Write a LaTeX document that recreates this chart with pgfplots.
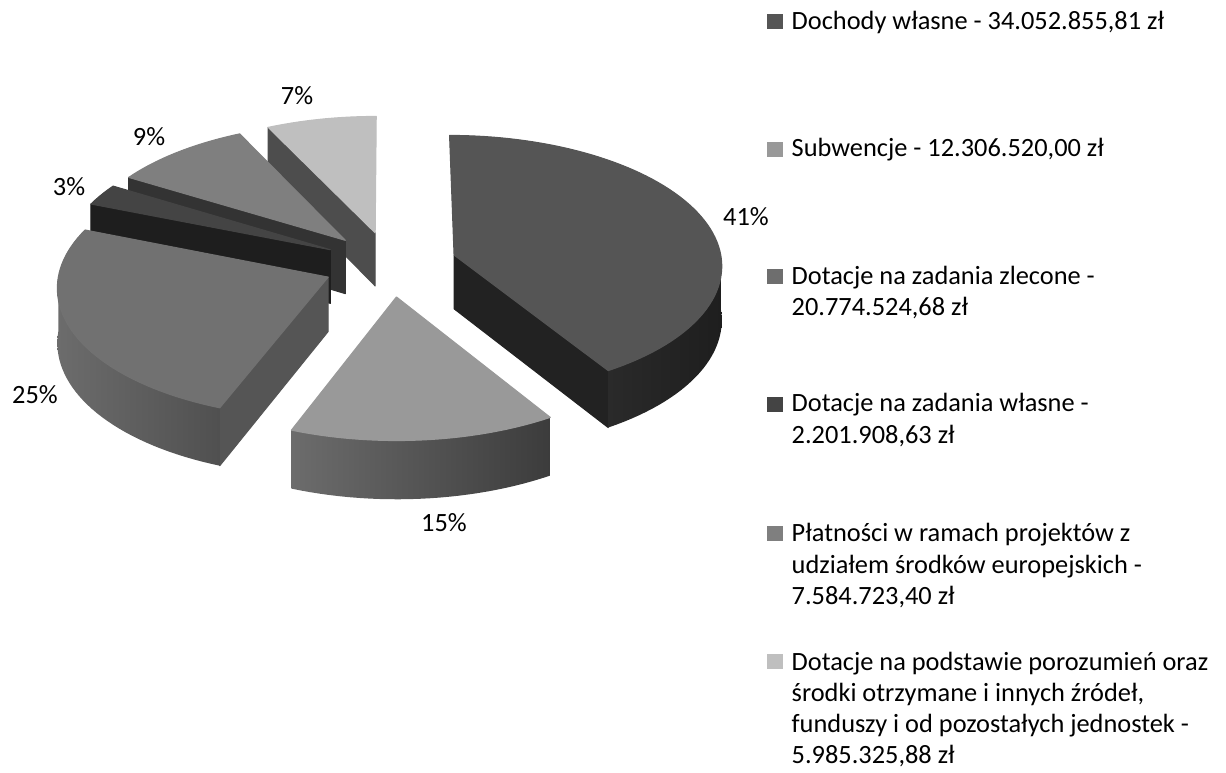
\documentclass[border=0pt]{standalone}
\usepackage{pgfplots}
\pgfplotsset{compat=1.18}
\usepackage{pgfplotstable}
\usepackage{fontspec}
\setmainfont{Carlito}

% values in millions of zl
\pgfplotstableread{
value
34.05285581
12.30652000
20.77452468
2.20190863
7.58472340
5.98532588
}\piedata

\definecolor{top0}{HTML}{555555}\definecolor{wall0}{HTML}{222222}\definecolor{sideL0}{HTML}{2A2A2A}\definecolor{sideR0}{HTML}{1E1E1E}
\definecolor{top1}{HTML}{999999}\definecolor{wall1}{HTML}{5A5A5A}\definecolor{sideL1}{HTML}{6C6C6C}\definecolor{sideR1}{HTML}{3C3C3C}
\definecolor{top2}{HTML}{717171}\definecolor{wall2}{HTML}{555555}\definecolor{sideL2}{HTML}{6C6C6C}\definecolor{sideR2}{HTML}{505050}
\definecolor{top3}{HTML}{444444}\definecolor{wall3}{HTML}{1E1E1E}\definecolor{sideL3}{HTML}{2A2A2A}\definecolor{sideR3}{HTML}{1E1E1E}
\definecolor{top4}{HTML}{7F7F7F}\definecolor{wall4}{HTML}{333333}\definecolor{sideL4}{HTML}{555555}\definecolor{sideR4}{HTML}{333333}
\definecolor{top5}{HTML}{BFBFBF}\definecolor{wall5}{HTML}{4D4D4D}\definecolor{sideL5}{HTML}{888888}\definecolor{sideR5}{HTML}{666666}
\definecolor{leg0}{HTML}{555555}\definecolor{leg1}{HTML}{999999}\definecolor{leg2}{HTML}{6E6E6E}
\definecolor{leg3}{HTML}{444444}\definecolor{leg4}{HTML}{7F7F7F}\definecolor{leg5}{HTML}{BFBFBF}

% projection parameters (pixel units of the axis)
\def\PP{0.07}\def\EE{0.25}\def\CX{390}\def\CY{264}\def\RX{268}\def\RY{130}\def\HH{54}

\newcommand\proj[4]{% angle, radius, bisector, level (0 top, 1 bottom)
  \pgfmathsetmacro\pX{\EE*sin(#3)+#2*sin(#1)}%
  \pgfmathsetmacro\pZ{\EE*cos(#3)+#2*cos(#1)}%
  \pgfmathsetmacro\pS{1-\PP*\pZ}%
  \pgfmathsetmacro\px{\CX+\pX*\RX*\pS}%
  \pgfmathsetmacro\py{\CY-\pZ*\RY*\pS+#4*\HH*\pS}%
  \xdef\pt{(axis cs:\px,\py)}%
}
\newcommand\arcpts[4]{% from, to, bisector, level ; appends " -- pt" to \acc
  \pgfmathtruncatemacro\nn{max(2,ceil(abs(#2-(#1))/2))}%
  \foreach \k in {0,...,\nn}{%
    \pgfmathsetmacro\tht{#1+(#2-(#1))*\k/\nn}%
    \proj{\tht}{1}{#3}{#4}%
    \xdef\acc{\acc -- \pt}%
  }%
}

\begin{document}
\begin{tikzpicture}
% cumulative angles (clockwise from 12 o'clock)
\gdef\total{0}
\foreach \i in {0,...,5}{%
  \pgfplotstablegetelem{\i}{value}\of\piedata
  \pgfmathsetmacro\tmp{\total+\pgfplotsretval}\xdef\total{\tmp}}
\gdef\cum{0}
\foreach \i in {0,...,5}{%
  \pgfplotstablegetelem{\i}{value}\of\piedata
  \pgfmathsetmacro\aa{360*(\cum/\total)}%
  \pgfmathsetmacro\tmp{\cum+\pgfplotsretval}\xdef\cum{\tmp}%
  \pgfmathsetmacro\bb{360*(\cum/\total)}%
  \expandafter\xdef\csname angA\i\endcsname{\aa}%
  \expandafter\xdef\csname angB\i\endcsname{\bb}%
}
\gdef\piepaths{}
\foreach \i in {5,4,3,0,2,1}{%
  \edef\a{\csname angA\i\endcsname}\edef\b{\csname angB\i\endcsname}%
  \pgfmathsetmacro\bis{(\a+\b)/2}%
  \proj{0}{0}{\bis}{0}\xdef\ctop{\pt}%
  \proj{0}{0}{\bis}{1}\xdef\cbot{\pt}%
  % wall at start angle
  \pgfmathparse{sin(\a)<-0.001?1:0}%
  \ifnum\pgfmathresult=1
    \proj{\a}{1}{\bis}{0}\xdef\pa{\pt}\proj{\a}{1}{\bis}{1}\xdef\pb{\pt}%
    \xdef\piepaths{\unexpanded\expandafter{\piepaths}\noexpand\fill[wall\i,draw=wall\i,line width=0.3pt,line join=round] \ctop -- \pa -- \pb -- \cbot -- cycle;}%
  \fi
  % wall at end angle
  \pgfmathparse{sin(\b)>0.001?1:0}%
  \ifnum\pgfmathresult=1
    \proj{\b}{1}{\bis}{0}\xdef\pa{\pt}\proj{\b}{1}{\bis}{1}\xdef\pb{\pt}%
    \xdef\piepaths{\unexpanded\expandafter{\piepaths}\noexpand\fill[wall\i,draw=wall\i,line width=0.3pt,line join=round] \ctop -- \pa -- \pb -- \cbot -- cycle;}%
  \fi
  % outer side
  \pgfmathsetmacro\ta{max(\a,90)}\pgfmathsetmacro\tb{min(\b,270)}%
  \pgfmathparse{\tb>\ta?1:0}%
  \ifnum\pgfmathresult=1
    \proj{\ta}{1}{\bis}{0}\xdef\acc{\pt}%
    \arcpts{\ta}{\tb}{\bis}{0}%
    \arcpts{\tb}{\ta}{\bis}{1}%
    \xdef\piepaths{\unexpanded\expandafter{\piepaths}\noexpand\path[left color=sideL\i,right color=sideR\i] \acc -- cycle;}%
  \fi
  % top face
  \xdef\acc{\ctop}%
  \arcpts{\a}{\b}{\bis}{0}%
  \xdef\piepaths{\unexpanded\expandafter{\piepaths}\noexpand\fill[top\i,draw=top\i,line width=0.3pt,line join=round] \acc -- cycle;}%
}
\begin{axis}[hide axis, scale only axis, width=12.26cm, height=7.72cm,
  xmin=0, xmax=1226, ymin=0, ymax=772, y dir=reverse, clip=false]
\addplot[draw=none] coordinates {(0,0) (1226,772)};
\piepaths
\tikzset{lbl/.style={font=\fontsize{7.5}{9}\selectfont, inner sep=0pt}}
\node[lbl] at (axis cs:746,217) {41\%};
\node[lbl] at (axis cs:444,523) {15\%};
\node[lbl] at (axis cs:35,395) {25\%};
\node[lbl] at (axis cs:69,187) {3\%};
\node[lbl] at (axis cs:149,137) {9\%};
\node[lbl] at (axis cs:297,96) {7\%};
% legend
\fill[leg0] (axis cs:767,14) rectangle (axis cs:783,29);
\fill[leg1] (axis cs:767,142) rectangle (axis cs:783,157);
\fill[leg2] (axis cs:767,269) rectangle (axis cs:783,284);
\fill[leg3] (axis cs:767,397) rectangle (axis cs:783,412);
\fill[leg4] (axis cs:767,526) rectangle (axis cs:783,541);
\fill[leg5] (axis cs:767,654) rectangle (axis cs:783,669);
\tikzset{lt/.style={lbl, anchor=base west}}
\node[lt] at (axis cs:791,29.5) {Dochody własne - 34.052.855,81 zł};
\node[lt] at (axis cs:791,156) {Subwencje - 12.306.520,00 zł};
\node[lt] at (axis cs:791,284) {Dotacje na zadania zlecone -};
\node[lt] at (axis cs:791,315.5) {20.774.524,68 zł};
\node[lt] at (axis cs:791,411.5) {Dotacje na zadania własne -};
\node[lt] at (axis cs:791,443) {2.201.908,63 zł};
\node[lt] at (axis cs:791,541.5) {Płatności w ramach projektów z};
\node[lt] at (axis cs:791,573) {udziałem środków europejskich -};
\node[lt] at (axis cs:791,604.5) {7.584.723,40 zł};
\node[lt] at (axis cs:791,670) {Dotacje na podstawie porozumień oraz};
\node[lt] at (axis cs:791,701) {środki otrzymane i innych źródeł,};
\node[lt] at (axis cs:791,732) {funduszy i od pozostałych jednostek -};
\node[lt] at (axis cs:791,763) {5.985.325,88 zł};
\end{axis}
\pgfresetboundingbox
\path[use as bounding box] (current axis.south west) rectangle (current axis.north east);
\end{tikzpicture}
\end{document}
